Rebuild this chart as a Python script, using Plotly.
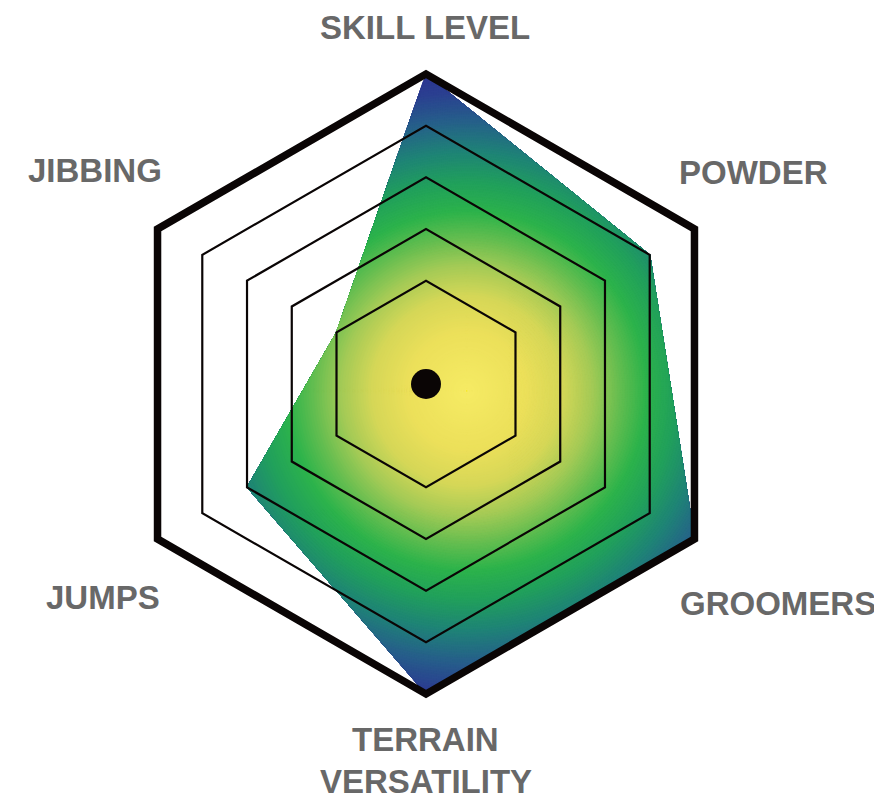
import numpy as np
import plotly.graph_objects as go

# ---------------- data ----------------
categories = ["SKILL LEVEL", "POWDER", "GROOMERS", "TERRAIN VERSATILITY", "JUMPS", "JIBBING"]
values = [6, 5, 6, 6, 4, 2]
angles = [0, 60, 120, 180, 240, 300]          # clockwise from top
grid_levels = [2, 3, 4, 5]
outer_level = 6

# ---------------- style ----------------
OFF = 8                                        # page body margin
W, H = 882 - OFF, 799 - OFF
CX, CY, RPX = 426 - OFF, 384 - OFF, 310        # polar centre / radius of level 6 in px
RMAX = 6.15                                    # radial range max (room for thick frame)
RDOM = RPX * RMAX / outer_level
UNIT = RPX / outer_level
grad_center = (0.79, -0.135)                   # gradient focus (data units, x right / y up)
grad_stops = [
    (0.00, "#f6eb64"), (1.16, "#ece05a"), (1.84, "#d6d757"), (2.42, "#a6cb56"),
    (3.00, "#62bd50"), (3.48, "#2db34b"), (4.06, "#21a05c"), (4.64, "#1f8476"),
    (5.23, "#26608a"), (5.81, "#2b3f91"), (6.30, "#2e3192"),
]
TXT = "#686868"
FONT = "Liberation Sans"
LINE = "#0a0505"


def hex2rgb(h):
    h = h.lstrip("#")
    return np.array([int(h[i:i + 2], 16) for i in (0, 2, 4)], float)


def grad_color(d):
    ds = [s[0] for s in grad_stops]
    cs = [hex2rgb(s[1]) for s in grad_stops]
    if d <= ds[0]:
        c = cs[0]
    elif d >= ds[-1]:
        c = cs[-1]
    else:
        k = np.searchsorted(ds, d) - 1
        t = (d - ds[k]) / (ds[k + 1] - ds[k])
        c = cs[k] * (1 - t) + cs[k + 1] * t
    return "rgb(%d,%d,%d)" % tuple(np.round(c))


def to_xy(r, phi):
    p = np.radians(phi)
    return np.array([r * np.sin(p), r * np.cos(p)])


def cross(a, b):
    return a[0] * b[1] - a[1] * b[0]


def poly_r(phi):
    n = len(angles)
    phi = phi % 360
    for k in range(n):
        a1 = angles[k]
        a2 = angles[(k + 1) % n] if k + 1 < n else 360
        if a1 <= phi <= a2:
            P1 = to_xy(values[k], a1)
            P2 = to_xy(values[(k + 1) % n], a2)
            D = P2 - P1
            u = to_xy(1, phi)
            return cross(P1, D) / cross(u, D)
    return values[0]


c = np.array(grad_center)
cn = np.hypot(*c)


def disk_r(phi, d):
    u = to_xy(1, phi)
    b = u @ c
    return b + np.sqrt(max(b * b - cn * cn + d * d, 0))


phis = np.unique(np.concatenate([np.arange(0, 360, 0.5), angles, [360]]))
pr = np.array([poly_r(p) for p in phis])

verts = [to_xy(v, a) for v, a in zip(values, angles)]
dmax = max(np.hypot(*(v - c)) for v in verts) + 0.02

fig = go.Figure()

levels = np.arange(dmax, 0.0, -0.05)
for d in levels:
    if d <= cn + 1e-6:
        al = np.radians(np.linspace(0, 360, 181))
        xs = c[0] + d * np.cos(al)
        ys = c[1] + d * np.sin(al)
        rr = np.hypot(xs, ys)
        th = np.degrees(np.arctan2(xs, ys)) % 360
    else:
        rr = np.minimum(pr, [disk_r(p, d) for p in phis])
        th = phis
    col = grad_color(d)
    fig.add_trace(go.Scatterpolar(
        r=rr, theta=th, mode="lines", fill="toself", fillcolor=col,
        line=dict(color=col, width=0.6), hoverinfo="skip", showlegend=False))


# grid rings above fill, drawn as filled bands so corners are mitred
def ring(level, width_px):
    h = (width_px / 2) / UNIT / np.cos(np.radians(30))
    th_out = angles + [360]
    th = th_out + th_out[::-1]
    r = [level + h] * len(th_out) + [level - h] * len(th_out)
    fig.add_trace(go.Scatterpolar(
        r=r, theta=th, mode="lines", fill="toself", fillcolor=LINE,
        line=dict(color=LINE, width=0), hoverinfo="skip", showlegend=False))


for g in grid_levels:
    ring(g, 2.2)
ring(outer_level, 7.5)

# centre dot
fig.add_trace(go.Scatterpolar(
    r=[0], theta=[0], mode="markers", marker=dict(color=LINE, size=30),
    hoverinfo="skip", showlegend=False))

# labels (positions given in window px)
label_pos = {
    "SKILL LEVEL": (425, 28, "center"),
    "POWDER": (753, 172, "center"),
    "GROOMERS": (778, 603, "center"),
    "JUMPS": (103, 597, "center"),
    "JIBBING": (95, 170, "center"),
}


def ann(text, x, y, anc):
    fig.add_annotation(x=(x - OFF) / W, y=1 - (y - OFF) / H, xref="paper", yref="paper",
                       text=text, showarrow=False, xanchor=anc, yanchor="middle",
                       font=dict(family=FONT, size=33, color=TXT, weight="bold"))


for name, (x, y, anc) in label_pos.items():
    ann(name, x, y, anc)
t1, t2 = categories[3].split(" ")
ann(t1, 425, 739, "center")
ann(t2, 426, 781, "center")

fig.update_layout(
    width=W, height=H, margin=dict(l=0, r=0, t=0, b=0),
    paper_bgcolor="white", plot_bgcolor="white",
    polar=dict(
        domain=dict(x=[(CX - RDOM) / W, (CX + RDOM) / W],
                    y=[1 - (CY + RDOM) / H, 1 - (CY - RDOM) / H]),
        bgcolor="white",
        radialaxis=dict(range=[0, RMAX], visible=False),
        angularaxis=dict(rotation=90, direction="clockwise", showline=False,
                         showgrid=False, showticklabels=False, ticks=""),
    ),
)
fig.write_html("out.html")
